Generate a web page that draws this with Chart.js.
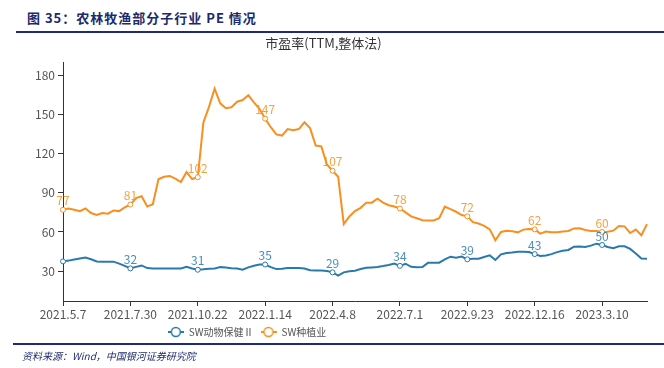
<!DOCTYPE html>
<html>
<head>
<meta charset="utf-8">
<script src="https://cdn.jsdelivr.net/npm/chart.js@4.4.0/dist/chart.umd.min.js"></script>
<style>
  body { margin: 0; width: 664px; height: 368px; background: #fff; position: relative; overflow: hidden; }
  #title { position: absolute; left: 27px; top: 8px; font-size: 13px; font-weight: bold; color: #1a2a6c;
           font-family: 'Noto Sans CJK SC', serif; letter-spacing: 1px; }
  .rule { position: absolute; left: 16px; right: 0; height: 2px; background: #1f2b7a; }
  #src { position: absolute; left: 22px; top: 348px; font-size: 10px; font-style: italic; color: #1f2b6f;
         font-family: 'Noto Sans CJK SC', serif; }
  #wrap { position: absolute; left: 0; top: 34px; width: 664px; height: 315px; }
</style>
</head>
<body>
<div id="title">图 35：农林牧渔部分子行业 PE 情况</div>
<div class="rule" style="top:31px"></div>
<div id="wrap"><canvas id="myChart"></canvas></div>
<div class="rule" style="top:343px;left:13px"></div>
<div id="src">资料来源：Wind，中国银河证券研究院</div>
<script>
const fontFamily = "'Noto Sans CJK SC', 'Noto Sans', sans-serif";

// weekly dates starting 2021.5.7
const startDate = new Date(2021, 4, 7);
const weekCount = 105;
const dates = [];
for (let i = 0; i < weekCount; i++) {
  const d = new Date(startDate.getTime() + i * 7 * 86400000);
  dates.push(`${d.getFullYear()}.${d.getMonth() + 1}.${d.getDate()}`);
}

const tickLabels = ['2021.5.7', '2021.7.30', '2021.10.22', '2022.1.14', '2022.4.8',
                    '2022.7.1', '2022.9.23', '2022.12.16', '2023.3.10'];
const yTicks = [30, 60, 90, 120, 150, 180];

const animalHealth = [
  37.4, 38, 38.8, 39.6, 40.4, 39, 37.3, 37.2, 37.2, 37.2, 35.7, 34,
  32, 33.2, 34.3, 32.3, 32, 32, 32, 32, 32, 32, 33.2, 32,
  31, 31.3, 31.8, 32, 33, 32.7, 32.2, 32, 31.1, 32.8, 34, 35,
  35, 33, 31.5, 31.8, 32.3, 32.3, 32.3, 32, 30.6, 30.4, 30.4, 30,
  29, 26.5, 29, 29.8, 30.3, 31.5, 32.5, 32.8, 33.1, 33.8, 34.6, 35.7,
  34, 35.6, 33.2, 33, 33.1, 36.3, 36.4, 36.4, 39, 41, 40.3, 41.1,
  39, 39.4, 39.4, 40.8, 42, 38.5, 42.8, 43.8, 44.2, 44.8, 44.8, 44.6,
  43, 41.6, 42, 43, 44.5, 45.5, 46.2, 48.7, 48.8, 48.5, 49.5, 51,
  50, 48.5, 47.6, 49, 49, 47, 43.5, 39.6, 39.4
];

const planting = [
  77, 78, 77, 76, 78, 74.5, 73, 74.5, 74, 76.5, 76, 78.8,
  81, 86, 87.4, 79.5, 81.3, 100.4, 102.4, 103, 101, 98.3, 106, 100.6,
  102, 144, 156, 170, 158.7, 155, 155.7, 160, 161.3, 165, 159.5, 154.4,
  147, 140.4, 134.9, 134, 139, 138, 139, 144.2, 139.7, 126.3, 125.7, 111.8,
  107, 102.4, 66, 71.9, 76, 78.5, 82.5, 82.5, 85.5, 82.5, 80.5, 79.5,
  78, 75, 72, 70.5, 69, 68.8, 68.8, 70.5, 79.5, 77.5, 75.5, 73,
  72, 67.5, 66.5, 64.7, 62, 53.6, 60, 61, 60.5, 59.7, 61.8, 62.3,
  62, 58.7, 60.3, 59.8, 59.8, 60.4, 60.8, 62.7, 62.8, 61.5, 60.8, 60.8,
  60, 60.2, 61, 64.6, 64.3, 59.2, 61.8, 57.5, 66
];

const blue = '#2a79ad';
const orange = '#f7901e';

function legendIcon(color) {
  const c = document.createElement('canvas');
  c.width = 16; c.height = 12;
  const g = c.getContext('2d');
  g.strokeStyle = color;
  g.lineWidth = 2;
  g.beginPath(); g.moveTo(0, 6); g.lineTo(16, 6); g.stroke();
  g.fillStyle = '#fff';
  g.lineWidth = 1.5;
  g.beginPath(); g.arc(8, 6, 4.5, 0, Math.PI * 2); g.fill(); g.stroke();
  return c;
}

// value labels above every 12th point
const pointLabels = {
  id: 'pointLabels',
  afterDatasetsDraw(chart) {
    const ctx = chart.ctx;
    chart.data.datasets.forEach((ds, di) => {
      const meta = chart.getDatasetMeta(di);
      ctx.save();
      ctx.font = '12px ' + fontFamily;
      ctx.fillStyle = ds.labelColor;
      ctx.textAlign = 'center';
      ctx.textBaseline = 'bottom';
      meta.data.forEach((pt, i) => {
        if (i % 12 !== 0 || ds.skipLabels.includes(i)) return;
        ctx.fillText(Math.round(ds.data[i]), pt.x, pt.y - 3);
      });
      ctx.restore();
    });
  }
};

// legend sits left of centre in the original
const legendShift = {
  id: 'legendShift',
  afterLayout(chart) {
    const lg = chart.legend;
    lg.left = 0;
    lg.right = 494;
    lg.top -= 2;
    lg.bottom -= 2;
  }
};

const pointRadius = ctx => (ctx.dataIndex % 12 === 0 ? 2.5 : 0);

const ctx = document.getElementById('myChart').getContext('2d');
new Chart(ctx, {
  type: 'line',
  data: {
    labels: dates,
    datasets: [{
      label: 'SW动物保健Ⅱ',
      data: animalHealth,
      borderColor: blue,
      backgroundColor: '#fff',
      borderWidth: 2,
      pointRadius: pointRadius,
      pointBorderWidth: 1,
      pointBackgroundColor: '#fff',
      tension: 0,
      labelColor: 'rgba(42,121,173,0.85)',
      skipLabels: [0],
      legendIcon: legendIcon(blue)
    }, {
      label: 'SW种植业',
      data: planting,
      borderColor: orange,
      backgroundColor: '#fff',
      borderWidth: 2,
      pointRadius: pointRadius,
      pointBorderWidth: 1,
      pointBackgroundColor: '#fff',
      tension: 0,
      labelColor: 'rgba(247,144,30,0.85)',
      skipLabels: [],
      legendIcon: legendIcon(orange)
    }]
  },
  options: {
    responsive: true,
    maintainAspectRatio: false,
    animation: false,
    events: [],
    layout: { padding: { left: 0, right: 17, top: 0, bottom: 0 } },
    plugins: {
      title: {
        display: true,
        text: '市盈率(TTM,整体法)',
        color: '#333',
        font: { family: fontFamily, size: 13, weight: 'normal' },
        padding: { top: 1, bottom: 12 }
      },
      legend: {
        position: 'bottom',
        labels: {
          usePointStyle: true,
          pointStyleWidth: 16,
          color: '#555',
          font: { family: fontFamily, size: 10 },
          padding: 7,
          generateLabels(chart) {
            const items = Chart.defaults.plugins.legend.labels.generateLabels(chart);
            items.forEach(it => { it.pointStyle = chart.data.datasets[it.datasetIndex].legendIcon; });
            return items;
          }
        }
      },
      tooltip: { enabled: false }
    },
    scales: {
      x: {
        offset: false,
        afterFit: scale => { scale.height = 21; },
        grid: {
          drawOnChartArea: false,
          tickLength: 5,
          color: c => (c.index % 12 === 0 ? '#333' : 'rgba(0,0,0,0)')
        },
        border: { color: '#333', width: 1 },
        ticks: {
          autoSkip: false,
          maxRotation: 0,
          color: '#555',
          padding: 1,
          font: { family: fontFamily, size: 12 },
          callback: (v, i) => (i % 12 === 0 ? tickLabels[i / 12] : '')
        }
      },
      y: {
        min: 7,
        max: 190,
        afterBuildTicks: scale => { scale.ticks = yTicks.map(v => ({ value: v })); },
        afterFit: scale => { scale.width = 63; },
        grid: { drawOnChartArea: false, tickLength: 5, color: '#333' },
        border: { color: '#333', width: 1 },
        ticks: {
          color: '#555',
          padding: 3,
          font: { family: fontFamily, size: 12 }
        }
      }
    }
  },
  plugins: [pointLabels, legendShift]
});
</script>
</body>
</html>
